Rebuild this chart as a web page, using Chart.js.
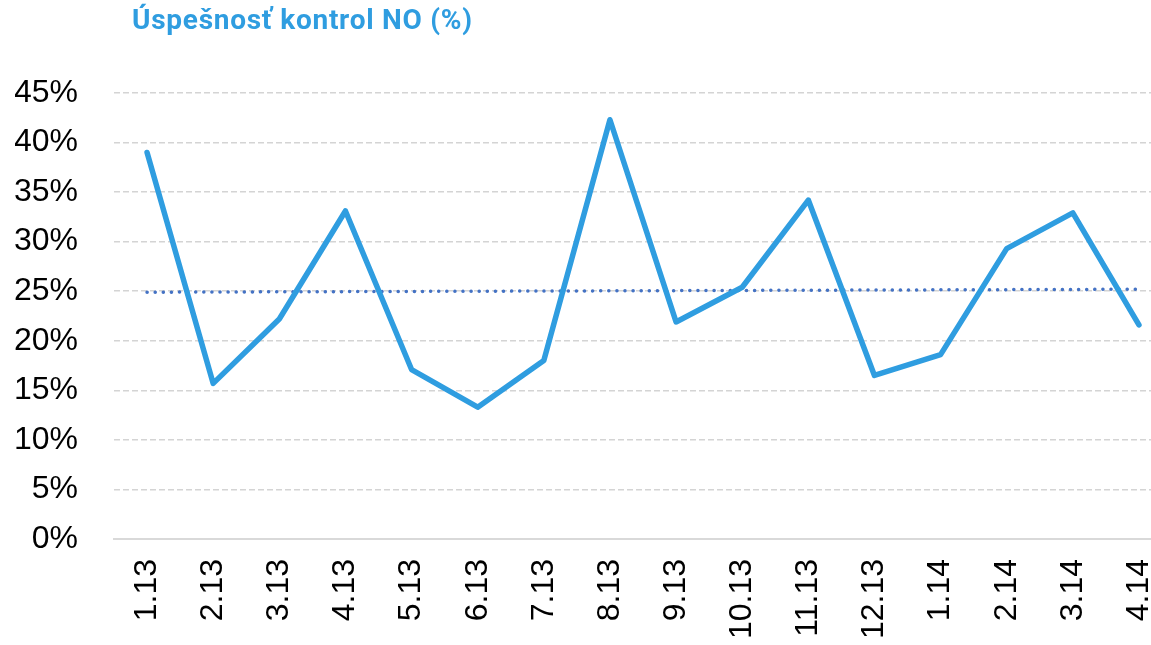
<!DOCTYPE html>
<html>
<head>
<meta charset="utf-8">
<script src="https://cdn.jsdelivr.net/npm/chart.js@4"></script>
<style>
  html, body { margin: 0; padding: 0; background: #fff; overflow: hidden; }
  #wrap { position: relative; width: 1172px; height: 645px; }
</style>
</head>
<body>
<div id="wrap"><canvas id="chart"></canvas></div>
<script>
"use strict";

const MONTHS = ["1.13", "2.13", "3.13", "4.13", "5.13", "6.13", "7.13", "8.13",
  "9.13", "10.13", "11.13", "12.13", "1.14", "2.14", "3.14", "4.14"];
const SUCCESS = [39.0, 15.7, 22.2, 33.1, 17.1, 13.3, 18.0, 42.3,
  21.9, 25.4, 34.2, 16.5, 18.6, 29.3, 32.9, 21.6];
// trend line: only the two ends
const TREND = [24.9, null, null, null, null, null, null, null,
  null, null, null, null, null, null, null, 25.2];
const Y_TICKS = [0, 5, 10, 15, 20, 25, 30, 35, 40, 45];

const TITLE = "Úspešnosť kontrol NO (%)";
const BLUE = "#2f9de0";

const titlePlugin = {
  id: "sideTitle",
  afterDraw(chart) {
    const ctx = chart.ctx;
    ctx.save();
    ctx.font = "bold 28px Roboto";
    ctx.fillStyle = BLUE;
    ctx.textBaseline = "top";
    ctx.textAlign = "left";
    // fit the tracking so the title spans the same width as the original
    const w = ctx.measureText(TITLE).width;
    if ("letterSpacing" in ctx) ctx.letterSpacing = (340 - w) / (TITLE.length - 1) + "px";
    ctx.fillText(TITLE, 132, 8);
    ctx.restore();
  },
};

new Chart(document.getElementById("chart"), {
  type: "line",
  plugins: [titlePlugin],
  data: {
    labels: MONTHS,
    datasets: [
      {
        label: "Úspešnosť",
        data: SUCCESS,
        borderColor: BLUE,
        borderWidth: 5.5,
        pointRadius: 0,
        tension: 0,
        borderJoinStyle: "round",
        borderCapStyle: "round",
      },
      {
        label: "Trend",
        data: TREND,
        spanGaps: true,
        borderColor: "#4472c4",
        borderWidth: 3.5,
        borderDash: [0.1, 8],
        borderCapStyle: "round",
        pointRadius: 0,
      },
    ],
  },
  options: {
    responsive: true,
    maintainAspectRatio: false,
    animation: false,
    layout: { padding: { top: 93, left: 15, right: 0, bottom: 0 } },
    plugins: {
      legend: { display: false },
      tooltip: { enabled: false },
      title: { display: false },
    },
    scales: {
      x: {
        offset: true,
        grid: { display: false, drawTicks: false },
        border: { display: true, color: "#d9d9d9", width: 2 },
        ticks: {
          color: "#000",
          font: { family: "Liberation Sans", size: 32 },
          minRotation: 90,
          maxRotation: 90,
          padding: 20,
          autoSkip: false,
        },
        afterFit: (scale) => {
          scale.height = 106;
          scale.paddingLeft = 0;
          scale.paddingRight = 0;
        },
      },
      y: {
        min: 0,
        max: 45,
        afterBuildTicks: (axis) => {
          axis.ticks = Y_TICKS.map((v) => ({ value: v }));
        },
        afterFit: (scale) => {
          scale.width = 99;
        },
        grid: { color: "#d4d4d4", lineWidth: 1.5, drawTicks: false },
        border: { display: false, dash: [6, 3] },
        ticks: {
          color: "#000",
          font: { family: "Liberation Sans", size: 32 },
          padding: 36,
          callback: (v) => v + "%",
        },
      },
    },
  },
});
</script>
</body>
</html>
